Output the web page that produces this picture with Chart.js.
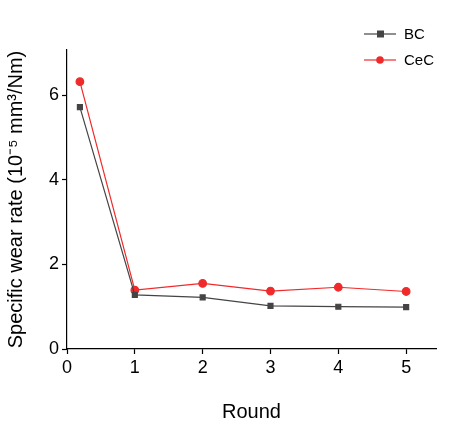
<!DOCTYPE html><html><head><script src="https://cdn.jsdelivr.net/npm/chart.js@4"></script>
<style>body{margin:0;background:#fff}#w{width:474px;height:428px}</style></head><body><div id="w"><canvas id="c"></canvas></div>
<script>
const xs=[0.19,1,2,3,4,5];
const bc=[5.72,1.28,1.22,1.02,1.0,0.99];
const cec=[6.32,1.39,1.55,1.37,1.46,1.36];
const xTicks=[0,1,2,3,4,5];
const yTicks=[0,2,4,6];
const F='Arial, "Liberation Sans", sans-serif';
const legendPlugin={id:'lg',afterDraw(ch){const c=ch.ctx;c.save();ch.data.datasets.forEach((d,i)=>{const y=34+i*26,x0=364;c.strokeStyle=d.borderColor;c.lineWidth=1.2;c.beginPath();c.moveTo(x0,y);c.lineTo(x0+32,y);c.stroke();c.fillStyle=d.borderColor;if(d.pointStyle==='rect'){c.fillRect(x0+13,y-3.5,7,7)}else{c.beginPath();c.arc(x0+16,y,3.8,0,7);c.fill()}c.fillStyle='#000';c.font='15px '+F;c.textBaseline='middle';c.fillText(d.label,x0+40,y+1)});c.restore();}};
const g={display:true,drawOnChartArea:false,drawTicks:true,tickLength:5,color:'#000',tickWidth:1.2};
new Chart(document.getElementById('c'),{type:'line',data:{datasets:[
{label:'BC',data:xs.map((x,i)=>({x,y:bc[i]})),borderColor:'#444',backgroundColor:'#444',pointStyle:'rect',pointRadius:3.5,borderWidth:1.2},
{label:'CeC',data:xs.map((x,i)=>({x,y:cec[i]})),borderColor:'#f02a2a',backgroundColor:'#f02a2a',pointStyle:'circle',pointRadius:3.8,borderWidth:1.2}]},
options:{animation:false,responsive:true,maintainAspectRatio:false,layout:{padding:{top:50,right:38,bottom:0,left:0}},
plugins:{legend:{display:false},tooltip:{enabled:false}},
scales:{x:{type:'linear',min:0,max:5.44,afterBuildTicks(a){a.ticks=xTicks.map(v=>({value:v}))},afterFit(a){a.height=79},
grid:g,border:{color:'#000',width:1.2},ticks:{color:'#000',font:{size:18,family:F},padding:3},
title:{display:true,text:'Round',color:'#000',font:{size:20,family:F},padding:{top:2}}},
y:{min:0,max:7.07,afterBuildTicks(a){a.ticks=yTicks.map(v=>({value:v}))},afterFit(a){a.width=67},
grid:g,border:{color:'#000',width:1.2},ticks:{color:'#000',font:{size:18,family:F},padding:3},
title:{display:true,text:'Specific wear rate (10⁻⁵ mm³/Nm)',color:'#000',font:{size:20,family:F},padding:{bottom:4}}}}},
plugins:[legendPlugin]});
</script></body></html>
